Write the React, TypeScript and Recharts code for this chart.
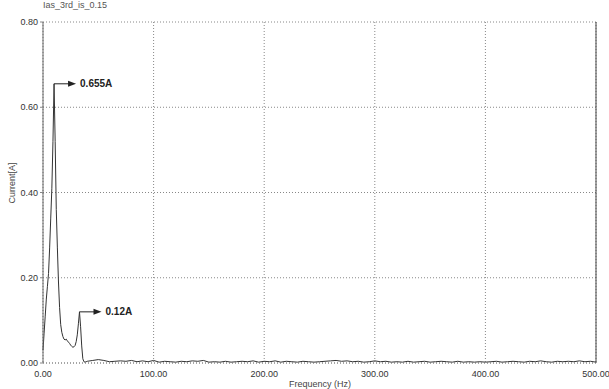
import { CartesianGrid, Line, LineChart, ReferenceDot, ReferenceLine, XAxis, YAxis } from "recharts";

const W = 609;
const H = 389;

// spectrum of the current, 1 Hz steps up to 40 Hz, then 5 Hz steps
const freqLow = [
  0, 1, 2, 3, 4, 5, 6, 7, 8, 9, 10, 11, 12, 13, 14, 15, 16, 17, 18, 19, 20,
  21, 22, 23, 24, 25, 26, 27, 28, 29, 30, 31, 32, 33, 34, 35, 36, 37, 38, 39, 40,
];
const currentLow = [
  0.03, 0.07, 0.11, 0.15, 0.18, 0.21, 0.27, 0.34, 0.41, 0.52, 0.655, 0.52, 0.36,
  0.27, 0.19, 0.13, 0.09, 0.072, 0.062, 0.056, 0.054, 0.056, 0.052, 0.049, 0.046,
  0.042, 0.039, 0.037, 0.038, 0.041, 0.05, 0.066, 0.092, 0.12, 0.085, 0.04, 0.01,
  0.003, 0.002, 0.003, 0.004,
];
const freqHigh = [
  45, 50, 55, 60, 65, 70, 75, 80, 85, 90, 95, 100, 105, 110, 115, 120, 125, 130,
  135, 140, 145, 150, 155, 160, 165, 170, 175, 180, 185, 190, 195, 200, 205, 210,
  215, 220, 225, 230, 235, 240, 245, 250, 255, 260, 265, 270, 275, 280, 285, 290,
  295, 300, 305, 310, 315, 320, 325, 330, 335, 340, 345, 350, 355, 360, 365, 370,
  375, 380, 385, 390, 395, 400, 405, 410, 415, 420, 425, 430, 435, 440, 445, 450,
  455, 460, 465, 470, 475, 480, 485, 490, 495, 500,
];
const currentHigh = [
  0.006, 0.008, 0.006, 0.003, 0.004, 0.005, 0.004, 0.006, 0.003, 0.005, 0.003,
  0.006, 0.002, 0.004, 0.003, 0.002, 0.004, 0.003, 0.005, 0.004, 0.006, 0.002,
  0.003, 0.002, 0.004, 0.002, 0.003, 0.004, 0.003, 0.005, 0.002, 0.004, 0.003,
  0.005, 0.002, 0.004, 0.003, 0.002, 0.004, 0.003, 0.002, 0.003, 0.004, 0.005,
  0.006, 0.004, 0.005, 0.003, 0.004, 0.002, 0.003, 0.005, 0.003, 0.004, 0.002,
  0.003, 0.002, 0.004, 0.002, 0.003, 0.004, 0.002, 0.003, 0.004, 0.003, 0.002,
  0.004, 0.002, 0.003, 0.002, 0.003, 0.002, 0.003, 0.004, 0.002, 0.003, 0.004,
  0.003, 0.002, 0.004, 0.003, 0.005, 0.003, 0.002, 0.004, 0.003, 0.004, 0.003,
  0.005, 0.003, 0.004, 0.002,
];

const xTicks = [0, 100, 200, 300, 400, 500];
const yTicks = [0, 0.2, 0.4, 0.6, 0.8];

const peaks = [
  { f: 10, a: 0.655, label: "0.655A" },
  { f: 33, a: 0.12, label: "0.12A" },
];

const data = [
  ...freqLow.map((f, i) => ({ f, a: currentLow[i] })),
  ...freqHigh.map((f, i) => ({ f, a: currentHigh[i] })),
];

const FONT = "'Liberation Sans', Arial, sans-serif";

function Arrow(props: { cx?: number; cy?: number; text: string }) {
  const { cx, cy, text } = props;
  if (cx === undefined || cy === undefined) return <g />;
  return (
    <g>
      <line x1={cx} y1={cy} x2={cx + 16} y2={cy} stroke="#222" strokeWidth={1} />
      <polygon points={`${cx + 14},${cy - 3} ${cx + 22},${cy} ${cx + 14},${cy + 3}`} fill="#222" />
      <text x={cx + 26} y={cy} dy={3.5} fontSize={10} fontWeight={600} fill="#222" fontFamily={FONT}>
        {text}
      </text>
    </g>
  );
}

export default function App() {
  return (
    <div style={{ position: "relative", width: W, height: H, background: "#fff", fontFamily: FONT }}>
      <style>{`body{margin:0}`}</style>
      <div style={{ position: "absolute", left: 43, top: 0, fontSize: 9, color: "#555" }}>Ias_3rd_is_0.15</div>
      <div
        style={{
          position: "absolute",
          left: 12,
          top: 183,
          fontSize: 9,
          color: "#444",
          transform: "translate(-50%, -50%) rotate(-90deg)",
          whiteSpace: "nowrap",
        }}
      >
        Current[A]
      </div>
      <div
        style={{
          position: "absolute",
          left: 320,
          top: 379,
          fontSize: 9,
          color: "#444",
          transform: "translateX(-50%)",
          whiteSpace: "nowrap",
        }}
      >
        Frequency (Hz)
      </div>
      <LineChart width={W} height={H} data={data} margin={{ top: 22, right: 13, bottom: 0, left: 0 }}>
        <CartesianGrid stroke="#888" strokeDasharray="1 2" />
        <XAxis
          dataKey="f"
          type="number"
          domain={[0, 500]}
          ticks={xTicks}
          tickFormatter={(v) => Number(v).toFixed(2)}
          height={26}
          axisLine={{ stroke: "#888", strokeDasharray: "1 2" }}
          tickLine={false}
          tick={{ fontSize: 9, fill: "#333", fontFamily: FONT }}
          tickMargin={2}
        />
        <YAxis
          type="number"
          domain={[0, 0.8]}
          ticks={yTicks}
          tickFormatter={(v) => Number(v).toFixed(2)}
          width={43}
          axisLine={{ stroke: "#666" }}
          tickLine={{ stroke: "#888" }}
          tickSize={3}
          tick={{ fontSize: 9, fill: "#333", fontFamily: FONT }}
        />
        <ReferenceLine x={500} stroke="#444" strokeWidth={1} />
        <Line
          type="linear"
          dataKey="a"
          stroke="#333"
          strokeWidth={1}
          dot={false}
          isAnimationActive={false}
        />
        {peaks.map((p) => (
          <ReferenceDot
            key={p.label}
            x={p.f}
            y={p.a}
            r={0}
            shape={(props: { cx?: number; cy?: number }) => <Arrow cx={props.cx} cy={props.cy} text={p.label} />}
          />
        ))}
      </LineChart>
    </div>
  );
}
